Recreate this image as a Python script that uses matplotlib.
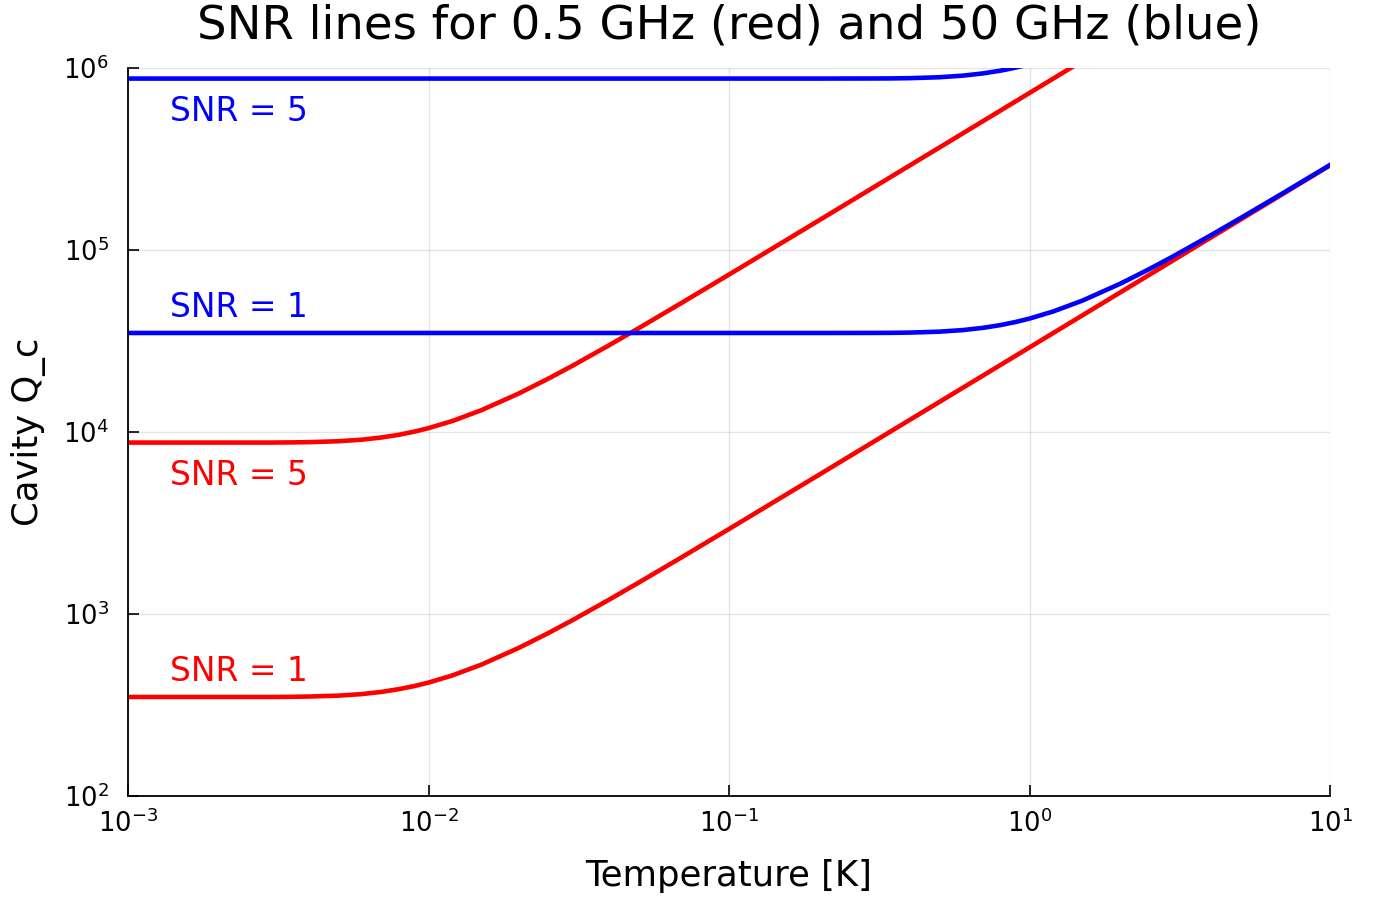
import matplotlib
matplotlib.use("Agg")
import matplotlib.pyplot as plt

# temperatures [K] and cavity Q_c values
temp_red = [0.001, 0.002, 0.003, 0.0035, 0.004, 0.005, 0.006, 0.007, 0.008, 0.009,
            0.01, 0.012, 0.015, 0.02, 0.025, 0.03, 0.04, 0.05, 0.07, 0.1,
            0.2, 0.5, 1.0, 2.0, 5.0, 10.0]
red_snr1 = [350, 350, 350, 350.7, 352, 356, 363, 373.5, 387, 402.3,
            420, 459.6, 527, 652, 784.4, 921, 1201.5, 1486, 2061.6, 2931,
            5840, 14586, 29168, 58334, 145835, 291670]

temp_red5 = [0.001, 0.002, 0.003, 0.0035, 0.004, 0.005, 0.006, 0.007, 0.008, 0.009,
             0.01, 0.012, 0.015, 0.02, 0.025, 0.03, 0.04, 0.05, 0.07, 0.1,
             0.2, 0.5, 1.0, 1.5]
red_snr5 = [8750, 8750, 8750, 8768, 8793, 8895, 9075, 9337, 9668, 10057,
            10498, 11490, 13175, 16293, 19610, 23025, 30037, 37150, 51541, 73275,
            146000, 364650, 729200, 1094000]

temp_blue = [0.001, 0.1, 0.2, 0.3, 0.35, 0.4, 0.5, 0.6, 0.7, 0.8,
             0.9, 1.0, 1.2, 1.5, 2.0, 2.5, 3.0, 4.0, 5.0, 7.0, 10.0]
blue_snr1 = [35000, 35000, 35000, 35023, 35070, 35175, 35581, 36307, 37350, 38668,
             40230, 41987, 45960, 52711, 65170, 78440, 92121, 120150, 148612, 206160,
             293070]

temp_blue5 = [0.001, 0.1, 0.2, 0.3, 0.35, 0.4, 0.5, 0.6, 0.7, 0.8, 0.85, 0.9, 0.95]
blue_snr5 = [875000, 875000, 875000, 875600, 876750, 879400, 889500, 907700,
             933750, 966700, 985500, 1005700, 1027100]

labels = ["SNR = 5", "SNR = 1", "SNR = 5", "SNR = 1"]
label_q = [5.12e5, 4.29e4, 5.12e3, 429]
label_col = ["blue", "blue", "red", "red"]

fig = plt.figure(figsize=(13.95, 9.01), dpi=100)
ax = fig.add_axes([128 / 1395, 1 - 796 / 901, (1330 - 128) / 1395, (796 - 68) / 901])

lw = 3.3
ax.plot(temp_red, red_snr1, color="red", lw=lw)
ax.plot(temp_red5, red_snr5, color="red", lw=lw)
ax.plot(temp_blue, blue_snr1, color="blue", lw=lw)
ax.plot(temp_blue5, blue_snr5, color="blue", lw=lw)

for txt, q, c in zip(labels, label_q, label_col):
    ax.text(1.38e-3, q, txt, color=c, fontsize=23.7, ha="left", va="baseline")

ax.set_xscale("log")
ax.set_yscale("log")
ax.set_xlim(1e-3, 1e1)
ax.set_ylim(1e2, 1e6)
ax.minorticks_off()

ax.grid(True, color="black", alpha=0.1, lw=1)
for s in ["top", "right"]:
    ax.spines[s].set_visible(False)
for s in ["left", "bottom"]:
    ax.spines[s].set_linewidth(1.3)

ax.tick_params(axis="both", which="major", direction="in", length=8, width=1.2,
               labelsize=18.5)
ax.tick_params(axis="x", pad=10)
ax.tick_params(axis="y", pad=14)

ax.set_title("SNR lines for 0.5 GHz (red) and 50 GHz (blue)", fontsize=33.5, pad=21)
ax.set_xlabel("Temperature [K]", fontsize=25.5, labelpad=15)
ax.set_ylabel("Cavity Q_c", fontsize=25.5, labelpad=12)

fig.savefig("out.png", dpi=100)
